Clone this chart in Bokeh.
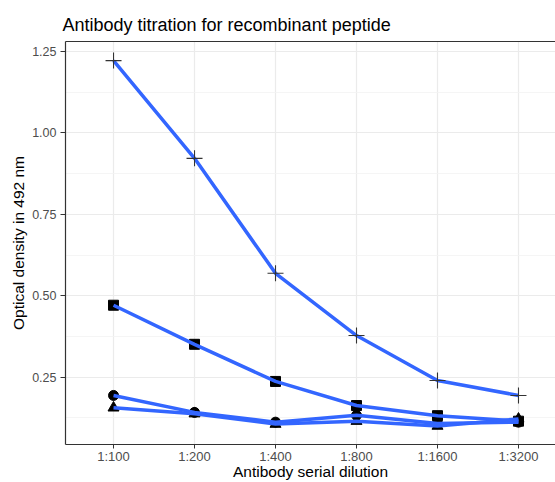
from bokeh.plotting import figure
from bokeh.models import Range1d, FixedTicker, SingleIntervalTicker, NumeralTickFormatter, LinearAxis
from bokeh.embed import file_html
from bokeh.resources import INLINE

categories = ["1:100", "1:200", "1:400", "1:800", "1:1600", "1:3200"]
plus_vals = [1.222, 0.922, 0.569, 0.378, 0.240, 0.194]
square_vals = [0.471, 0.351, 0.237, 0.163, 0.132, 0.115]
circle_vals = [0.194, 0.142, 0.112, 0.133, 0.108, 0.112]
triangle_vals = [0.156, 0.138, 0.106, 0.115, 0.100, 0.122]

x_idx = list(range(len(categories)))
FONT = "Liberation Sans"
LINE_COLOR = "#3366FF"
BORDER = "#333333"

p = figure(width=555, height=482, output_backend="svg", toolbar_location=None,
           x_range=Range1d(-0.593, 5.457), y_range=Range1d(0.0434, 1.2807),
           min_border_left=65, min_border_right=0, min_border_top=41, min_border_bottom=38,
           title="Antibody titration for recombinant peptide")
p.outline_line_color = None
p.background_fill_color = "white"
p.border_fill_color = "white"

p.title.text_font = FONT
p.title.text_font_size = "18px"
p.title.text_font_style = "normal"
p.title.text_color = "black"
p.title.align = "left"
p.title.offset = -3
p.title.standoff = 13

# axes
xa = p.xaxis[0]
ya = p.yaxis[0]
xa.ticker = FixedTicker(ticks=x_idx)
xa.major_label_overrides = {i: c for i, c in zip(x_idx, categories)}
ya.ticker = SingleIntervalTicker(interval=0.25, num_minor_ticks=2)
ya.formatter = NumeralTickFormatter(format="0.00")
xa.axis_label = "Antibody serial dilution"
ya.axis_label = "Optical density in 492 nm"
for ax in (xa, ya):
    ax.axis_line_color = BORDER
    ax.axis_line_width = 1.2
    ax.major_tick_line_color = BORDER
    ax.major_tick_in = 0
    ax.minor_tick_line_color = None
    ax.major_label_text_color = "#4D4D4D"
    ax.major_label_text_font = FONT
    ax.axis_label_text_font = FONT
    ax.axis_label_text_font_size = "15.5px"
    ax.axis_label_text_font_style = "normal"
    ax.axis_label_text_color = "black"
xa.major_label_text_font_size = "13px"
ya.major_label_text_font_size = "12.5px"
xa.major_tick_out = 4
ya.major_tick_out = 5
xa.major_label_standoff = 0
xa.axis_label_standoff = -4
ya.major_label_standoff = 4
ya.axis_label_standoff = 2

top = LinearAxis(ticker=FixedTicker(ticks=[]), major_label_text_font_size="0px",
                 axis_line_color=BORDER, axis_line_width=1.2,
                 major_tick_line_color=None, minor_tick_line_color=None,
                 major_label_standoff=0)
p.add_layout(top, "above")

# grids
p.xgrid.ticker = FixedTicker(ticks=x_idx)
p.xgrid.grid_line_color = "#EBEBEB"
p.xgrid.grid_line_width = 1.2
p.ygrid.grid_line_color = "#EBEBEB"
p.ygrid.grid_line_width = 1.2
p.ygrid.minor_grid_line_color = "#F2F2F2"
p.ygrid.minor_grid_line_width = 0.8

# points
p.scatter(x_idx, circle_vals, marker="circle", size=10, color="black")
p.scatter(x_idx, triangle_vals, marker="triangle", size=11, color="black")
p.scatter(x_idx, square_vals, marker="square", size=10, color="black")

# lines
for vals in (circle_vals, triangle_vals, square_vals, plus_vals):
    p.line(x_idx, vals, line_color=LINE_COLOR, line_width=3.5)

p.scatter(x_idx, plus_vals, marker="cross", size=16, line_color="#333333", line_width=1.1)

open("out.html", "w").write(file_html(p, INLINE))
